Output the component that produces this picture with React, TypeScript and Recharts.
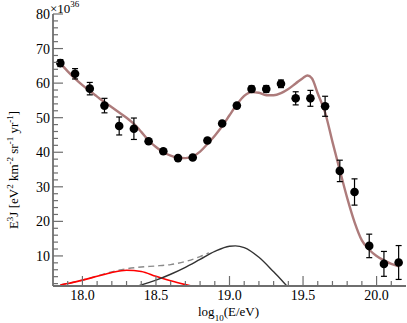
import React from "react";
import { ComposedChart, XAxis, YAxis, Line, Scatter, ErrorBar } from "recharts";

// ---- data ----
const pointX = [17.85, 17.95, 18.05, 18.15, 18.25, 18.35, 18.45, 18.55, 18.65, 18.75, 18.85, 18.95, 19.05, 19.15, 19.25, 19.35, 19.45, 19.55, 19.65, 19.75, 19.85, 19.95, 20.05, 20.15];
const pointY = [65.8, 62.7, 58.4, 53.5, 47.6, 46.8, 43.2, 40.3, 38.3, 38.5, 43.4, 48.3, 53.5, 58.3, 58.3, 59.8, 55.6, 55.6, 53.3, 34.6, 28.5, 12.9, 7.7, 8.1];
const pointErr = [1.0, 1.5, 1.8, 2.1, 2.6, 3.1, 0.3, 0.3, 0.3, 0.3, 0.3, 0.3, 0.3, 0.9, 1.0, 1.1, 1.9, 2.3, 2.9, 3.1, 3.8, 3.4, 3.6, 4.9];

const fitX = [17.85, 17.9, 17.95, 18.0, 18.05, 18.1, 18.15, 18.2, 18.25, 18.3, 18.35, 18.4, 18.45, 18.5, 18.55, 18.6, 18.65, 18.7, 18.75, 18.8, 18.85, 18.9, 18.95, 19.0, 19.05, 19.1, 19.15, 19.2, 19.25, 19.3, 19.35, 19.4, 19.45, 19.5, 19.53, 19.56, 19.6, 19.65, 19.7, 19.75, 19.8, 19.85, 19.9, 19.95, 20.0, 20.05, 20.1, 20.15];
const fitY = [65.8, 63.4, 61.3, 59.4, 57.7, 56.1, 54.5, 53.0, 51.5, 50.0, 48.2, 45.9, 43.4, 41.5, 40.0, 39.0, 38.4, 38.3, 38.8, 40.2, 42.4, 44.8, 47.5, 50.7, 53.8, 56.3, 57.4, 57.2, 56.5, 56.5, 57.1, 58.3, 59.9, 61.5, 62.2, 61.4, 57.0, 51.5, 43.0, 34.8, 26.8, 19.8, 14.5, 11.8, 10.0, 8.7, 7.7, 7.0];

const redX = [17.85, 17.9, 18.0, 18.1, 18.2, 18.3, 18.4, 18.5, 18.6, 18.7, 18.77];
const redY = [1.6, 2.0, 3.0, 4.1, 5.2, 5.85, 5.5, 4.1, 2.8, 1.7, 1.0];

const blackX = [18.37, 18.45, 18.5, 18.6, 18.7, 18.8, 18.9, 19.0, 19.04, 19.1, 19.2, 19.3, 19.35, 19.39];
const blackY = [1.2, 2.3, 3.0, 4.7, 6.7, 9.0, 11.3, 12.8, 12.9, 12.4, 9.6, 5.4, 3.2, 1.3];

const sumX = [17.85, 18.0, 18.1, 18.2, 18.3, 18.4, 18.5, 18.6, 18.7, 18.8, 18.86];
const sumY = [1.6, 3.0, 4.2, 5.4, 6.3, 6.8, 7.1, 7.5, 8.4, 9.8, 10.9];

const xMajorTicks = [18.0, 18.5, 19.0, 19.5, 20.0];
const xTickLabels = ["18.0", "18.5", "19.0", "19.5", "20.0"];
const xMinorTicks = [17.9, 18.1, 18.2, 18.3, 18.4, 18.6, 18.7, 18.8, 18.9, 19.1, 19.2, 19.3, 19.4, 19.6, 19.7, 19.8, 19.9, 20.1];
const yMajorTicks = [10, 20, 30, 40, 50, 60, 70, 80];
const yTickLabels = ["10", "20", "30", "40", "50", "60", "70", "80"];
const yMinorTicks = [2, 4, 6, 8, 12, 14, 16, 18, 22, 24, 26, 28, 32, 34, 36, 38, 42, 44, 46, 48, 52, 54, 56, 58, 62, 64, 66, 68, 72, 74, 76, 78];

const X_DOMAIN = [17.8, 20.2];
const Y_DOMAIN = [1.3, 80];

const points = pointX.map((x, i) => ({ x, y: pointY[i], err: pointErr[i] }));
const fit = fitX.map((x, i) => ({ x, y: fitY[i] }));
const red = redX.map((x, i) => ({ x, y: redY[i] }));
const black = blackX.map((x, i) => ({ x, y: blackY[i] }));
const sum = sumX.map((x, i) => ({ x, y: sumY[i] }));

const allX = [...xMajorTicks, ...xMinorTicks].sort((a, b) => a - b);
const allY = [...yMajorTicks, ...yMinorTicks].sort((a, b) => a - b);

const FONT = "Liberation Serif, Times New Roman, DejaVu Serif, serif";
const AXIS_GRAY = "#6e6e6e";

function majorIndex(list: number[], v: number) {
  return list.findIndex((m) => Math.abs(m - v) < 1e-6);
}

const BottomTick = (props: any) => {
  const { x, y, payload } = props;
  const idx = majorIndex(xMajorTicks, payload.value);
  const len = idx >= 0 ? 10 : 5;
  return (
    <g>
      <line x1={x} x2={x} y1={y} y2={y - len} stroke={AXIS_GRAY} strokeWidth={1.2} />
      {idx >= 0 && (
        <text x={x} y={y + 14} textAnchor="middle" style={{ fontFamily: FONT }} fontSize={14} fill="#000">
          {xTickLabels[idx]}
        </text>
      )}
    </g>
  );
};

const TopTick = (props: any) => {
  const { x, y, payload } = props;
  const idx = majorIndex(xMajorTicks, payload.value);
  const len = idx >= 0 ? 10 : 5;
  return <line x1={x} x2={x} y1={y} y2={y + len} stroke={AXIS_GRAY} strokeWidth={1.2} />;
};

const LeftTick = (props: any) => {
  const { x, y, payload } = props;
  const idx = majorIndex(yMajorTicks, payload.value);
  const len = idx >= 0 ? 10 : 5;
  return (
    <g>
      <line x1={x} x2={x + len} y1={y} y2={y} stroke={AXIS_GRAY} strokeWidth={1.2} />
      {idx >= 0 && (
        <text x={x - 3} y={y + 5} textAnchor="end" style={{ fontFamily: FONT }} fontSize={14} fill="#000">
          {yTickLabels[idx]}
        </text>
      )}
    </g>
  );
};

const RightTick = (props: any) => {
  const { x, y, payload } = props;
  const idx = majorIndex(yMajorTicks, payload.value);
  const len = idx >= 0 ? 10 : 5;
  return <line x1={x} x2={x - len} y1={y} y2={y} stroke={AXIS_GRAY} strokeWidth={1.2} />;
};

const Dot = (props: any) => {
  const { cx, cy } = props;
  if (cx == null || cy == null) return null;
  return <circle cx={cx} cy={cy} r={4.3} fill="#000" />;
};

export default function App() {
  return (
    <div style={{ position: "absolute", left: 0, top: 0, width: 407, height: 323, background: "#fff" }}>
      <ComposedChart width={407} height={323} margin={{ top: 14, right: 1, bottom: 0, left: 0 }}>
        <XAxis
          xAxisId="b"
          dataKey="x"
          type="number"
          domain={X_DOMAIN}
          allowDataOverflow
          ticks={allX}
          interval={0}
          height={37}
          tickSize={0}
          tickMargin={0}
          tickLine={false}
          axisLine={{ stroke: AXIS_GRAY, strokeWidth: 1.8 }}
          tick={(p: any) => <BottomTick {...p} />}
        />
        <XAxis
          xAxisId="t"
          orientation="top"
          dataKey="x"
          type="number"
          domain={X_DOMAIN}
          allowDataOverflow
          ticks={allX}
          interval={0}
          height={0}
          tickSize={0}
          tickMargin={0}
          tickLine={false}
          axisLine={{ stroke: "#111", strokeWidth: 1.2 }}
          tick={(p: any) => <TopTick {...p} />}
        />
        <YAxis
          yAxisId="l"
          type="number"
          domain={Y_DOMAIN}
          allowDataOverflow
          ticks={allY}
          interval={0}
          width={53}
          tickSize={0}
          tickMargin={0}
          tickLine={false}
          axisLine={{ stroke: AXIS_GRAY, strokeWidth: 1.8 }}
          tick={(p: any) => <LeftTick {...p} />}
        />
        <YAxis
          yAxisId="r"
          orientation="right"
          type="number"
          domain={Y_DOMAIN}
          allowDataOverflow
          ticks={allY}
          interval={0}
          width={0}
          tickSize={0}
          tickMargin={0}
          tickLine={false}
          axisLine={{ stroke: AXIS_GRAY, strokeWidth: 1.8 }}
          tick={(p: any) => <RightTick {...p} />}
        />
        <Line xAxisId="b" yAxisId="l" data={sum} dataKey="y" type="monotone" stroke="#8a8a8a" strokeWidth={1.4} strokeDasharray="6 4" dot={false} isAnimationActive={false} />
        <Line xAxisId="b" yAxisId="l" data={red} dataKey="y" type="monotone" stroke="#ff0000" strokeWidth={1.6} dot={false} isAnimationActive={false} />
        <Line xAxisId="b" yAxisId="l" data={black} dataKey="y" type="monotone" stroke="#333333" strokeWidth={1.4} dot={false} isAnimationActive={false} />
        <Line xAxisId="b" yAxisId="l" data={fit} dataKey="y" type="monotone" stroke="#ad7b7b" strokeWidth={2.4} dot={false} isAnimationActive={false} />
        <Scatter xAxisId="b" yAxisId="l" data={points} dataKey="y" shape={(p: any) => <Dot {...p} />} isAnimationActive={false}>
          <ErrorBar dataKey="err" direction="y" width={3} stroke="#000" strokeWidth={1.2} />
        </Scatter>
      </ComposedChart>
      <svg width={407} height={323} style={{ position: "absolute", left: 0, top: 0, pointerEvents: "none", fontFamily: FONT }}>
        <text x={50} y={13} fontSize={13} fill="#000">
          ×10
          <tspan fontSize={9} dy={-6}>36</tspan>
        </text>
        <text x={198} y={316} fontSize={13} fill="#000">
          log
          <tspan fontSize={9} dy={5}>10</tspan>
          <tspan dy={-5}>(E/eV)</tspan>
        </text>
        <text transform="translate(18,170) rotate(-90)" textAnchor="middle" fontSize={13} fill="#000">
          E<tspan fontSize={9} dy={-5}>3</tspan>
          <tspan dy={5}>J [eV</tspan>
          <tspan fontSize={9} dy={-5}>2</tspan>
          <tspan dy={5}> km</tspan>
          <tspan fontSize={9} dy={-5}>-2</tspan>
          <tspan dy={5}> sr</tspan>
          <tspan fontSize={9} dy={-5}>-1</tspan>
          <tspan dy={5}> yr</tspan>
          <tspan fontSize={9} dy={-5}>-1</tspan>
          <tspan dy={5}>]</tspan>
        </text>
      </svg>
    </div>
  );
}
